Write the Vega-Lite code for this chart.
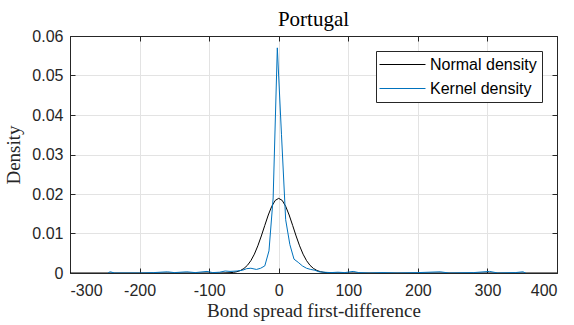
{
  "$schema": "https://vega.github.io/schema/vega-lite/v6.json",
  "autosize": "none",
  "width": 487,
  "height": 237,
  "padding": {"left": 70, "top": 36, "right": 17, "bottom": 52},
  "background": "white",
  "title": {"text": "Portugal", "font": "Liberation Serif", "fontSize": 21, "fontWeight": "normal", "color": "#000000", "offset": -2, "anchor": "middle"},
  "config": {
    "view": {"stroke": "#262626", "strokeWidth": 1},
    "axis": {
      "domainColor": "#262626", "tickColor": "#262626", "labelColor": "#262626",
      "labelFont": "Liberation Sans", "labelFontSize": 16, "tickSize": -5,
      "gridColor": "#e3e3e3", "titleFont": "Liberation Serif", "titleFontSize": 19,
      "titleFontWeight": "normal", "titleColor": "#262626"
    }
  },
  "data": {"values": [
    {"x": -300, "y": 0, "series": "Normal density"},
    {"x": -90, "y": 0, "series": "Normal density"},
    {"x": -80, "y": 0.0000143, "series": "Normal density"},
    {"x": -70, "y": 0.000077, "series": "Normal density"},
    {"x": -65, "y": 0.000164, "series": "Normal density"},
    {"x": -60, "y": 0.00033, "series": "Normal density"},
    {"x": -55, "y": 0.00063, "series": "Normal density"},
    {"x": -50, "y": 0.00114, "series": "Normal density"},
    {"x": -45, "y": 0.00194, "series": "Normal density"},
    {"x": -40, "y": 0.00313, "series": "Normal density"},
    {"x": -35, "y": 0.00477, "series": "Normal density"},
    {"x": -30, "y": 0.00688, "series": "Normal density"},
    {"x": -25, "y": 0.00937, "series": "Normal density"},
    {"x": -20, "y": 0.01206, "series": "Normal density"},
    {"x": -15, "y": 0.01468, "series": "Normal density"},
    {"x": -10, "y": 0.01689, "series": "Normal density"},
    {"x": -5, "y": 0.01838, "series": "Normal density"},
    {"x": 0, "y": 0.0189, "series": "Normal density"},
    {"x": 5, "y": 0.01838, "series": "Normal density"},
    {"x": 10, "y": 0.01689, "series": "Normal density"},
    {"x": 15, "y": 0.01468, "series": "Normal density"},
    {"x": 20, "y": 0.01206, "series": "Normal density"},
    {"x": 25, "y": 0.00937, "series": "Normal density"},
    {"x": 30, "y": 0.00688, "series": "Normal density"},
    {"x": 35, "y": 0.00477, "series": "Normal density"},
    {"x": 40, "y": 0.00313, "series": "Normal density"},
    {"x": 45, "y": 0.00194, "series": "Normal density"},
    {"x": 50, "y": 0.00114, "series": "Normal density"},
    {"x": 55, "y": 0.00063, "series": "Normal density"},
    {"x": 60, "y": 0.00033, "series": "Normal density"},
    {"x": 65, "y": 0.000164, "series": "Normal density"},
    {"x": 70, "y": 0.000077, "series": "Normal density"},
    {"x": 80, "y": 0.0000143, "series": "Normal density"},
    {"x": 90, "y": 0, "series": "Normal density"},
    {"x": 400, "y": 0, "series": "Normal density"},
    {"x": -245, "y": 0.0001, "series": "Kernel density"},
    {"x": -242, "y": 0.0003, "series": "Kernel density"},
    {"x": -236, "y": 0.0, "series": "Kernel density"},
    {"x": -200, "y": 0.0, "series": "Kernel density"},
    {"x": -180, "y": 0.0001, "series": "Kernel density"},
    {"x": -160, "y": 0.0003, "series": "Kernel density"},
    {"x": -150, "y": 0.0001, "series": "Kernel density"},
    {"x": -132, "y": 0.0003, "series": "Kernel density"},
    {"x": -120, "y": 0.0001, "series": "Kernel density"},
    {"x": -103, "y": 0.0004, "series": "Kernel density"},
    {"x": -95, "y": 0.0001, "series": "Kernel density"},
    {"x": -85, "y": 0.0002, "series": "Kernel density"},
    {"x": -77, "y": 0.0005, "series": "Kernel density"},
    {"x": -70, "y": 0.0004, "series": "Kernel density"},
    {"x": -60, "y": 0.0005, "series": "Kernel density"},
    {"x": -52, "y": 0.0007, "series": "Kernel density"},
    {"x": -46, "y": 0.0011, "series": "Kernel density"},
    {"x": -40, "y": 0.0012, "series": "Kernel density"},
    {"x": -32, "y": 0.0009, "series": "Kernel density"},
    {"x": -26, "y": 0.0012, "series": "Kernel density"},
    {"x": -20, "y": 0.0018, "series": "Kernel density"},
    {"x": -14, "y": 0.0056, "series": "Kernel density"},
    {"x": -8, "y": 0.019, "series": "Kernel density"},
    {"x": -2, "y": 0.057, "series": "Kernel density"},
    {"x": 4, "y": 0.035, "series": "Kernel density"},
    {"x": 10, "y": 0.0135, "series": "Kernel density"},
    {"x": 16, "y": 0.0072, "series": "Kernel density"},
    {"x": 22, "y": 0.0035, "series": "Kernel density"},
    {"x": 28, "y": 0.0027, "series": "Kernel density"},
    {"x": 34, "y": 0.0018, "series": "Kernel density"},
    {"x": 40, "y": 0.0012, "series": "Kernel density"},
    {"x": 46, "y": 0.0009, "series": "Kernel density"},
    {"x": 52, "y": 0.0007, "series": "Kernel density"},
    {"x": 58, "y": 0.0003, "series": "Kernel density"},
    {"x": 65, "y": 0.0002, "series": "Kernel density"},
    {"x": 75, "y": 0.0001, "series": "Kernel density"},
    {"x": 85, "y": 0.0002, "series": "Kernel density"},
    {"x": 95, "y": 0.0001, "series": "Kernel density"},
    {"x": 107, "y": 0.0004, "series": "Kernel density"},
    {"x": 115, "y": 0.0001, "series": "Kernel density"},
    {"x": 130, "y": 0.0, "series": "Kernel density"},
    {"x": 150, "y": 0.0001, "series": "Kernel density"},
    {"x": 170, "y": 0.0, "series": "Kernel density"},
    {"x": 200, "y": 0.0001, "series": "Kernel density"},
    {"x": 232, "y": 0.0003, "series": "Kernel density"},
    {"x": 245, "y": 0.0, "series": "Kernel density"},
    {"x": 280, "y": 0.0001, "series": "Kernel density"},
    {"x": 303, "y": 0.0004, "series": "Kernel density"},
    {"x": 315, "y": 0.0, "series": "Kernel density"},
    {"x": 340, "y": 0.0001, "series": "Kernel density"},
    {"x": 351, "y": 0.0003, "series": "Kernel density"},
    {"x": 355, "y": 0.0, "series": "Kernel density"}
  ]},
  "layer": [
    {
      "mark": {"type": "line", "strokeWidth": 1, "clip": true},
      "encoding": {
        "x": {"field": "x", "type": "quantitative", "scale": {"domain": [-300, 400], "nice": false},
          "axis": {"values": [-300, -200, -100, 0, 100, 200, 300, 400], "labelExpr": "datum.value + ''", "title": "Bond spread first-difference", "titlePadding": 3, "labelPadding": 14, "grid": true}},
        "y": {"field": "y", "type": "quantitative", "scale": {"domain": [0, 0.06], "nice": false},
          "axis": {"values": [0, 0.01, 0.02, 0.03, 0.04, 0.05, 0.06], "labelExpr": "datum.value + ''", "title": "Density", "titlePadding": 8, "labelPadding": 12, "grid": true}},
        "color": {"field": "series", "type": "nominal",
          "scale": {"domain": ["Normal density", "Kernel density"], "range": ["#000000", "#0072BD"]},
          "legend": {"title": null, "orient": "top-right", "offset": 15, "symbolType": "M-3,0H3", "symbolSize": 235, "symbolStrokeWidth": 1, "labelFont": "Liberation Sans", "labelFontSize": 16, "labelColor": "#000000", "strokeColor": "#262626", "fillColor": "white", "padding": 5, "rowPadding": 7, "labelOffset": 19, "symbolOffset": 13}},
        "order": {"field": "x"}
      }
    },
    {
      "mark": {"type": "line", "opacity": 0},
      "encoding": {
        "x": {"field": "x", "type": "quantitative", "axis": {"orient": "top", "values": [-300, -200, -100, 0, 100, 200, 300, 400], "labels": false, "title": null, "grid": false}},
        "y": {"field": "y", "type": "quantitative", "axis": {"orient": "right", "values": [0, 0.01, 0.02, 0.03, 0.04, 0.05, 0.06], "labels": false, "title": null, "grid": false}},
        "detail": {"field": "series"}
      }
    }
  ],
  "resolve": {"axis": {"x": "independent", "y": "independent"}}
}
